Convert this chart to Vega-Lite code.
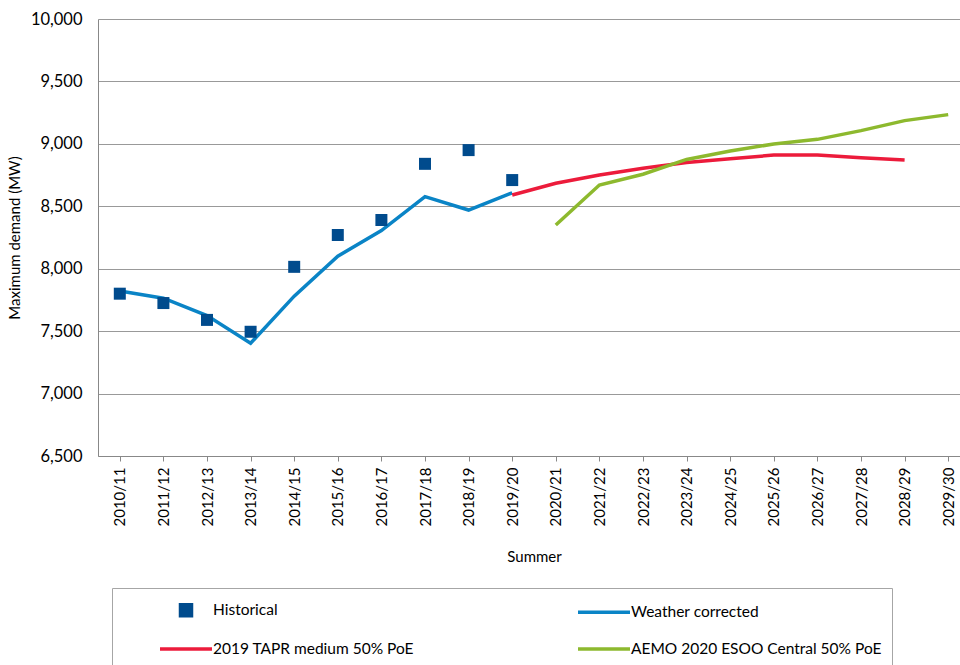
{
  "$schema": "https://vega.github.io/schema/vega-lite/v6.json",
  "autosize": {"type": "none"},
  "padding": {"left": 98, "top": 19, "right": -10, "bottom": 209},
  "width": 872,
  "height": 437,
  "background": "white",
  "config": {
    "font": "Lato",
    "view": {"stroke": null},
    "axis": {"labelFont": "Lato", "titleFont": "Lato", "labelColor": "#000", "titleColor": "#000", "titleFontWeight": "normal"}
  },
  "data": {
    "values": [
      {"year": "2010/11", "series": "Historical", "value": 7800},
      {"year": "2011/12", "series": "Historical", "value": 7725},
      {"year": "2012/13", "series": "Historical", "value": 7590},
      {"year": "2013/14", "series": "Historical", "value": 7495},
      {"year": "2014/15", "series": "Historical", "value": 8015},
      {"year": "2015/16", "series": "Historical", "value": 8270},
      {"year": "2016/17", "series": "Historical", "value": 8390},
      {"year": "2017/18", "series": "Historical", "value": 8840},
      {"year": "2018/19", "series": "Historical", "value": 8950},
      {"year": "2019/20", "series": "Historical", "value": 8710},
      {"year": "2010/11", "series": "Weather corrected", "value": 7822},
      {"year": "2011/12", "series": "Weather corrected", "value": 7764},
      {"year": "2012/13", "series": "Weather corrected", "value": 7625},
      {"year": "2013/14", "series": "Weather corrected", "value": 7403},
      {"year": "2014/15", "series": "Weather corrected", "value": 7780},
      {"year": "2015/16", "series": "Weather corrected", "value": 8100},
      {"year": "2016/17", "series": "Weather corrected", "value": 8305},
      {"year": "2017/18", "series": "Weather corrected", "value": 8577},
      {"year": "2018/19", "series": "Weather corrected", "value": 8470},
      {"year": "2019/20", "series": "Weather corrected", "value": 8608},
      {"year": "2019/20", "series": "2019 TAPR medium 50% PoE", "value": 8590},
      {"year": "2020/21", "series": "2019 TAPR medium 50% PoE", "value": 8684},
      {"year": "2021/22", "series": "2019 TAPR medium 50% PoE", "value": 8750},
      {"year": "2022/23", "series": "2019 TAPR medium 50% PoE", "value": 8805},
      {"year": "2023/24", "series": "2019 TAPR medium 50% PoE", "value": 8850},
      {"year": "2024/25", "series": "2019 TAPR medium 50% PoE", "value": 8880},
      {"year": "2025/26", "series": "2019 TAPR medium 50% PoE", "value": 8910},
      {"year": "2026/27", "series": "2019 TAPR medium 50% PoE", "value": 8911},
      {"year": "2027/28", "series": "2019 TAPR medium 50% PoE", "value": 8888},
      {"year": "2028/29", "series": "2019 TAPR medium 50% PoE", "value": 8871},
      {"year": "2020/21", "series": "AEMO 2020 ESOO Central 50% PoE", "value": 8350},
      {"year": "2021/22", "series": "AEMO 2020 ESOO Central 50% PoE", "value": 8670},
      {"year": "2022/23", "series": "AEMO 2020 ESOO Central 50% PoE", "value": 8757},
      {"year": "2023/24", "series": "AEMO 2020 ESOO Central 50% PoE", "value": 8875},
      {"year": "2024/25", "series": "AEMO 2020 ESOO Central 50% PoE", "value": 8943},
      {"year": "2025/26", "series": "AEMO 2020 ESOO Central 50% PoE", "value": 8999},
      {"year": "2026/27", "series": "AEMO 2020 ESOO Central 50% PoE", "value": 9036},
      {"year": "2027/28", "series": "AEMO 2020 ESOO Central 50% PoE", "value": 9106},
      {"year": "2028/29", "series": "AEMO 2020 ESOO Central 50% PoE", "value": 9186},
      {"year": "2029/30", "series": "AEMO 2020 ESOO Central 50% PoE", "value": 9234}
    ]
  },
  "encoding": {
    "x": {
      "field": "year", "type": "ordinal",
      "scale": {"type": "point", "padding": 0.5,
        "domain": ["2010/11","2011/12","2012/13","2013/14","2014/15","2015/16","2016/17","2017/18","2018/19","2019/20","2020/21","2021/22","2022/23","2023/24","2024/25","2025/26","2026/27","2027/28","2028/29","2029/30"]},
      "axis": {"title": "Summer", "titleFontSize": 15, "titlePadding": 24, "labelFontSize": 15, "labelAngle": -90, "labelPadding": 6,
        "tickColor": "#888", "tickSize": 5, "domainColor": "#888", "grid": false}
    },
    "y": {
      "field": "value", "type": "quantitative",
      "scale": {"domain": [6500, 10000], "nice": false, "zero": false},
      "axis": {"title": "Maximum demand (MW)", "titleFontSize": 15, "titlePadding": 8, "labelFontSize": 16.5, "labelPadding": 16,
        "values": [6500,7000,7500,8000,8500,9000,9500,10000], "format": ",.0f", "ticks": false, "tickSize": 0,
        "domain": true, "domainColor": "#888", "gridColor": "#999", "gridWidth": 1.2, "gridOpacity": 1}
    },
    "color": {
      "field": "series", "type": "nominal",
      "scale": {"domain": ["Historical", "Weather corrected", "2019 TAPR medium 50% PoE", "AEMO 2020 ESOO Central 50% PoE"],
        "range": ["#004B8D", "#0A84C6", "#EC1B3B", "#8DB92E"]},
      "legend": {
        "title": null, "orient": "none", "legendX": 14, "legendY": 569, "columns": 2, "direction": "horizontal",
        "padding": 10, "strokeColor": "#a6a6a6", "fillColor": "white",
        "labelFont": "Lato", "labelFontSize": 15.5, "labelColor": "#000", "labelLimit": 500,
        "labelExpr": "datum.value === 'AEMO 2020 ESOO Central 50% PoE' ? datum.label + '\u2003\u2003\u2003\u2003' : datum.label",
        "symbolSize": 400, "symbolOffset": 52, "labelOffset": 15, "rowPadding": 14, "columnPadding": 126,
        "encode": {"symbols": {"update": {
          "shape": {"signal": "datum.value === 'Historical' ? 'square' : 'stroke'"},
          "size": {"signal": "datum.value === 'Historical' ? 121 : (datum.value ? 2704 : 400)"},
          "fill": {"signal": "datum.value === 'Historical' ? '#004B8D' : 'transparent'"},
          "stroke": {"signal": "datum.value === 'Historical' ? 'transparent' : datum.value === 'Weather corrected' ? '#0A84C6' : datum.value === '2019 TAPR medium 50% PoE' ? '#EC1B3B' : '#8DB92E'"},
          "strokeWidth": {"value": 3.5},
          "opacity": {"value": 1}
        }}}
      }
    }
  },
  "layer": [
    {
      "transform": [{"filter": "datum.series !== 'Historical'"}],
      "mark": {"type": "line", "strokeWidth": 3.5, "interpolate": "linear"}
    },
    {
      "transform": [{"filter": "datum.series === 'Historical'"}],
      "mark": {"type": "point", "shape": "square", "filled": true, "size": 144, "opacity": 1}
    }
  ]
}
